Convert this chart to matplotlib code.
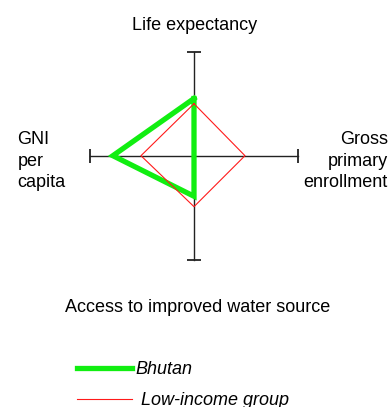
import numpy as np
import matplotlib.pyplot as plt

plt.rcParams['font.family'] = ['Liberation Sans', 'DejaVu Sans']

# axes in order: top, right, bottom, left
axis_labels = ['Life expectancy', 'Gross\nprimary\nenrollment',
               'Access to improved water source', 'GNI\nper\ncapita']
series_names = ['Bhutan', ' Low-income group']
bhutan = [0.55, 0.0, 0.39, 0.78]
low_income = [0.50, 0.49, 0.49, 0.51]

# direction of each axis (unit vectors)
dirs = np.array([[0, 1], [1, 0], [0, -1], [-1, 0]])


def to_xy(vals):
    pts = dirs * np.array(vals)[:, None]
    pts = np.vstack([pts, pts[:1]])
    return pts[:, 0], pts[:, 1]


fig = plt.figure(figsize=(3.92, 4.07), dpi=100)
ax = fig.add_axes([0, 0, 1, 1])
# centre of the diamond at pixel (194, 155.7), 104 px per unit
s = 104.0
ax.set_xlim(-194 / s, (392 - 194) / s)
ax.set_ylim(-(407 - 155.7) / s, 155.7 / s)
ax.axis('off')

# axes with end caps
ax.plot([-1, 1], [0, 0], color='#222222', lw=1.0, zorder=1)
ax.plot([0, 0], [-1, 1], color='#222222', lw=1.0, zorder=1)
ax.plot([-1, 1], [0, 0], ls='none', marker='|', ms=9.5, mew=1.3, color='#222222')
ax.plot([0, 0], [-1, 1], ls='none', marker='_', ms=9.5, mew=1.3, color='#222222')

bx, by = to_xy(bhutan)
lx, ly = to_xy(low_income)
ax.plot(bx, by, color='#11ee11', lw=3.8, solid_joinstyle='miter',
        label=series_names[0], zorder=2)
ax.plot(lx, ly, color='#ff1a1a', lw=0.8, label=series_names[1], zorder=3)

fs = 13
ax.text(0.01, 1.209, axis_labels[0], ha='center', va='baseline', fontsize=fs)
# multi-line labels: baseline aligns the last line
ax.text(1.864, -0.298, axis_labels[1], ha='right', va='baseline', fontsize=fs,
        multialignment='right', linespacing=1.32)
ax.text(0.038, -1.506, axis_labels[2], ha='center', va='baseline', fontsize=fs)
ax.text(-1.699, -0.298, axis_labels[3], ha='left', va='baseline', fontsize=fs,
        multialignment='left', linespacing=1.32)

leg = ax.legend(loc='upper left', bbox_to_anchor=(77 / 392, 1 - 361 / 407),
                frameon=False, prop={'style': 'italic', 'size': fs},
                handlelength=3.05, handletextpad=0.2, labelspacing=0.8,
                borderpad=0, borderaxespad=0)

fig.savefig('out.png', dpi=100)
